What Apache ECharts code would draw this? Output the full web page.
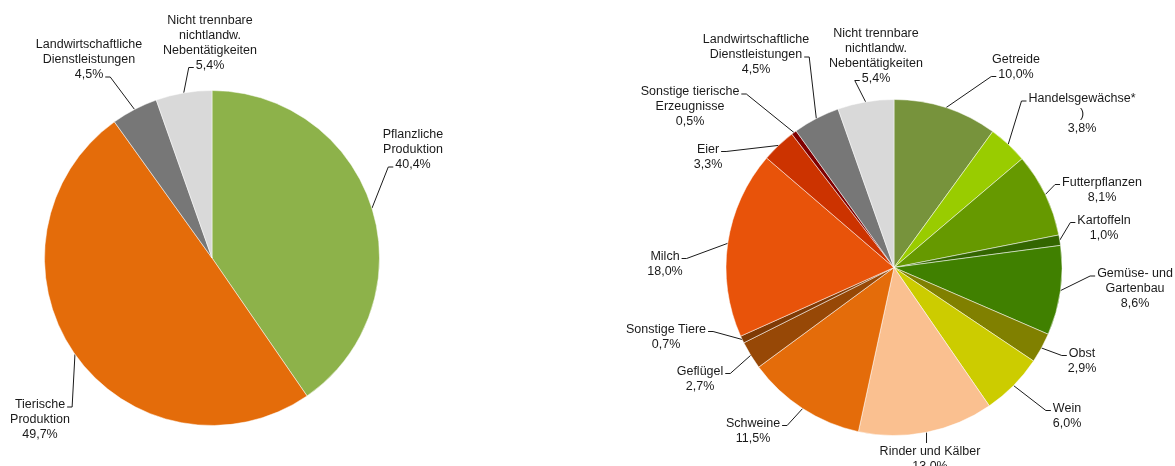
<!DOCTYPE html>
<html>
<head>
<meta charset="utf-8">
<script src="https://cdn.jsdelivr.net/npm/echarts@6/dist/echarts.min.js"></script>
<style>
html,body{margin:0;padding:0;background:#fff;}
#chart{width:1175px;height:466px;}
</style>
</head>
<body>
<div id="chart"></div>
<script>
// ---- data ----
var leftCategories = ['Pflanzliche\nProduktion', 'Tierische\nProduktion', 'Landwirtschaftliche\nDienstleistungen', 'Nicht trennbare\nnichtlandw.\nNebentätigkeiten'];
var leftValues = [40.4, 49.7, 4.5, 5.4];

var rightCategories = ['Getreide', 'Handelsgewächse*\n)', 'Futterpflanzen', 'Kartoffeln', 'Gemüse- und\nGartenbau', 'Obst', 'Wein',
  'Rinder und Kälber', 'Schweine', 'Geflügel', 'Sonstige Tiere', 'Milch', 'Eier', 'Sonstige tierische\nErzeugnisse',
  'Landwirtschaftliche\nDienstleistungen', 'Nicht trennbare\nnichtlandw.\nNebentätigkeiten'];
var rightValues = [10.0, 3.8, 8.1, 1.0, 8.6, 2.9, 6.0, 13.0, 11.5, 2.7, 0.7, 18.0, 3.3, 0.5, 4.5, 5.4];

// ---- styling / layout (not data) ----
var leftColors = ['#8DB24A', '#E46C0A', '#777777', '#D9D9D9'];
var rightColors = ['#77933C', '#99CC00', '#669900', '#336600', '#408000', '#808000', '#CCCC00',
  '#FAC090', '#E46C0A', '#974806', '#7F3A05', '#E8530A', '#CC3300', '#800000', '#777777', '#D9D9D9'];
// label block centres
var leftLabelPos = [[413, 150], [40, 420], [89, 60], [210, 43]];
var rightLabelPos = [[1016, 67], [1082, 114], [1102, 190], [1104, 228], [1135, 289], [1082, 361], [1067, 416],
  [930, 459], [753, 431], [700, 379], [666, 337], [665, 264], [708, 157], [690, 107], [756, 55], [876, 56]];
// leader attachment: [text line index, side]
var leftAttach = [[2, 'l'], [0, 'r'], [2, 'r'], [3, 'l']];
var rightAttach = [[1, 'l'], [0, 'l'], [0, 'l'], [0, 'l'], [0, 'l'], [0, 'l'], [0, 'l'],
  [0, 't'], [0, 'r'], [0, 'r'], [0, 'r'], [0, 'r'], [0, 'r'], [0, 'r'], [1, 'r'], [3, 'l']];

var FONT_SIZE = 12.5, LINE_H = 15, FONT_FAMILY = 'Liberation Sans, Arial, sans-serif';
var measureCtx = document.createElement('canvas').getContext('2d');
measureCtx.font = FONT_SIZE + 'px ' + FONT_FAMILY;

function fmt(v) { return v.toFixed(1).replace('.', ',') + '%'; }
function build(cats, vals, cols) {
  return cats.map(function (c, i) { return { name: c, value: vals[i], itemStyle: { color: cols[i] } }; });
}

var chart = echarts.init(document.getElementById('chart'), null, { renderer: 'canvas' });
var labelStyle = {
  show: true, position: 'outside', alignTo: 'none',
  formatter: function (p) { return p.name + '\n' + fmt(p.value); },
  fontFamily: FONT_FAMILY, fontSize: FONT_SIZE, lineHeight: LINE_H,
  color: '#1a1a1a', align: 'center'
};
var lineStyle = { show: true, length: 10, length2: 5, lineStyle: { color: '#1a1a1a', width: 1 } };

function layoutFor(pos, attach, cats, vals) {
  return function (params) {
    var i = params.dataIndex;
    var p = pos[i];
    var res = { x: p[0], y: p[1], align: 'center', verticalAlign: 'middle' };
    var pts = params.labelLinePoints;
    if (pts && pts.length) {
      var start = pts[0];
      var lines = (cats[i] + '\n' + fmt(vals[i])).split('\n');
      var top = p[1] - lines.length * LINE_H / 2;
      var a = attach[i];
      var ly = top + LINE_H * (a[0] + 0.5) + 2;
      var w = measureCtx.measureText(lines[a[0]]).width;
      var A, E;
      if (a[1] === 'l') {
        A = [p[0] - w / 2 - 2, ly]; E = [A[0] - 5, ly];
      } else if (a[1] === 'r') {
        A = [p[0] + w / 2 + 2, ly]; E = [A[0] + 5, ly];
      } else {
        A = [start[0], top - 1]; E = [start[0], top - 1];
      }
      res.labelLinePoints = [[start[0], start[1]], E, A];
    }
    return res;
  };
}

chart.setOption({
  animation: false,
  series: [
    {
      type: 'pie', center: [212, 258], radius: 167.5, startAngle: 90, clockwise: true,
      avoidLabelOverlap: false,
      itemStyle: { borderColor: '#ffffff', borderWidth: 0.5 },
      label: labelStyle, labelLine: lineStyle,
      labelLayout: layoutFor(leftLabelPos, leftAttach, leftCategories, leftValues),
      emphasis: { disabled: true },
      data: build(leftCategories, leftValues, leftColors)
    },
    {
      type: 'pie', center: [894, 267.5], radius: 168, startAngle: 90, clockwise: true,
      avoidLabelOverlap: false,
      itemStyle: { borderColor: '#ffffff', borderWidth: 0.5 },
      label: labelStyle, labelLine: lineStyle,
      labelLayout: layoutFor(rightLabelPos, rightAttach, rightCategories, rightValues),
      emphasis: { disabled: true },
      data: build(rightCategories, rightValues, rightColors)
    }
  ]
});
</script>
</body>
</html>
